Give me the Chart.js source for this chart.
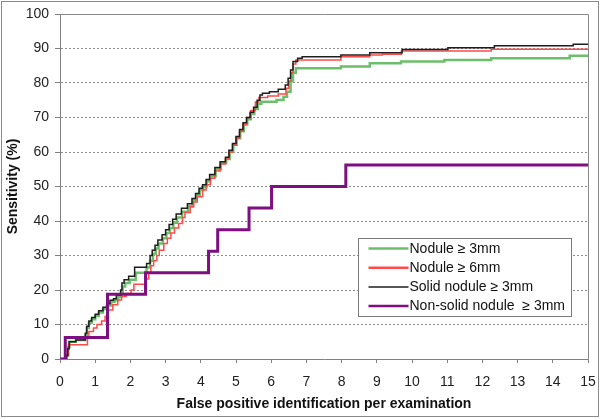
<!DOCTYPE html>
<html><head><meta charset="utf-8">
<script src="https://cdn.jsdelivr.net/npm/chart.js@4/dist/chart.umd.min.js"></script>
<style>html,body{margin:0;padding:0;background:#fff}#wrap{width:600px;height:418px}</style>
</head><body><div id="wrap"><canvas id="c" width="600" height="418"></canvas></div>
<script>
// ---- data ----
const xTickValues = [0,1,2,3,4,5,6,7,8,9,10,11,12,13,14,15];
const yTickValues = [0,10,20,30,40,50,60,70,80,90,100];
const xTitle = 'False positive identification per examination';
const yTitle = 'Sensitivity (%)';
const seriesLabels = ['Nodule \u2265 3mm','Nodule \u2265 6mm','Solid nodule \u2265 3mm','Non-solid nodule  \u2265 3mm'];

// each point: [false positives, sensitivity after the step]
const nodule3mm = [[0,0],[0.18,1],[0.23,3.5],[0.27,5],[0.45,5.5],[0.72,7],[0.76,9],[0.82,10.5],[0.9,11.5],[1.0,12.5],[1.1,13.5],[1.22,14.5],[1.33,15.5],[1.45,16.5],[1.55,17],[1.65,18],[1.74,19.5],[1.78,21],[1.85,22],[1.98,23],[2.15,25],[2.46,26.5],[2.56,28.5],[2.64,30.5],[2.72,32],[2.8,33.5],[2.92,35],[3.02,36.5],[3.12,38],[3.22,39.5],[3.32,41],[3.47,42.7],[3.64,44.3],[3.77,46],[3.87,47.5],[3.97,49],[4.07,50],[4.17,51.5],[4.27,53],[4.42,55],[4.57,56.8],[4.72,58],[4.82,60],[4.92,62],[5.02,64],[5.12,66],[5.22,68],[5.32,69.5],[5.42,71],[5.52,72.5],[5.62,74],[5.72,74.6],[6.15,75.1],[6.35,76],[6.45,77.5],[6.55,80.5],[6.62,83],[6.7,84.3],[7.98,84.8],[8.8,85.7],[9.69,86.2],[10.92,86.7],[12.25,87.2],[14.48,87.9],[15,87.9]];
const nodule6mm = [[0,0],[0.2,1],[0.24,4.1],[0.78,6.5],[0.82,8],[0.95,9],[1.05,10],[1.18,11],[1.28,12.3],[1.36,14.2],[1.5,15.7],[1.64,17.1],[1.75,18.1],[1.88,19],[2.02,20],[2.1,21.7],[2.45,23.2],[2.52,25],[2.58,27],[2.66,28.5],[2.75,30],[2.82,31.5],[2.95,33.5],[3.05,35],[3.15,36.5],[3.25,38],[3.37,39.3],[3.48,41],[3.55,42.5],[3.7,44.1],[3.8,45.5],[3.9,47],[4.05,49],[4.15,50.5],[4.27,52.4],[4.4,54.5],[4.55,56.5],[4.7,58],[4.8,60],[4.9,62],[5.0,64],[5.1,66],[5.2,68],[5.3,70],[5.42,72],[5.55,74.5],[5.65,75.8],[5.9,76.2],[6.2,76.8],[6.42,78.5],[6.5,80.5],[6.56,83],[6.62,85.5],[6.7,86.7],[7.98,87.6],[8.8,88.1],[9.15,88.3],[9.7,89.3],[12.25,89.8],[15,89.8]];
const solid3mm = [[0,0],[0.18,1],[0.22,3],[0.26,5],[0.45,5.5],[0.72,7.5],[0.76,9.5],[0.82,11],[0.9,12],[1.0,13],[1.1,14],[1.22,15],[1.33,16],[1.42,17],[1.52,17.5],[1.6,18.5],[1.72,20],[1.76,22],[1.82,23],[1.95,24],[2.12,26.6],[2.46,27.7],[2.56,30],[2.62,31.5],[2.7,33],[2.78,34.5],[2.9,36],[3.0,37.5],[3.1,39],[3.2,40.5],[3.3,42],[3.45,43.7],[3.62,45],[3.75,46.5],[3.85,48],[3.95,49.5],[4.05,50.5],[4.15,52],[4.25,53.5],[4.4,55.5],[4.55,57.2],[4.7,58.5],[4.8,60.5],[4.9,62.5],[5.0,64.5],[5.1,66.5],[5.2,68.5],[5.3,70],[5.4,71.5],[5.5,73],[5.6,75],[5.68,76.5],[5.75,77],[5.95,77.5],[6.2,78.2],[6.4,79.4],[6.48,81.4],[6.55,83.8],[6.62,86.2],[6.75,87.2],[6.88,87.6],[7.98,88.1],[8.8,88.8],[9.72,89.7],[11.02,90.2],[12.34,90.8],[14.58,91.2],[15,91.2]];
const nonSolid3mm = [[0,0],[0.15,6.25],[1.35,18.75],[2.43,25],[4.22,31.25],[4.48,37.5],[5.37,43.75],[6.01,50],[8.12,56.25],[15,56.25]];

// ---- styling ----
const colors = ['#6cbf6a','#ff4a4a','#1e1e1e','#7d0f80'];
const widths = [2.5,1.5,1.5,3];
const FONT = '"Liberation Sans", Arial, sans-serif';

const toPts = a => a.map(([x,y]) => ({x, y}));
const seriesData = [nodule3mm, nodule6mm, solid3mm, nonSolid3mm];

const framePlugin = {
  id: 'frame',
  beforeDatasetsDraw(chart) {
    const {ctx, chartArea: a} = chart;
    ctx.save();
    ctx.strokeStyle = '#8a8a8a';
    ctx.lineWidth = 1;
    ctx.beginPath();
    ctx.moveTo(Math.round(a.left) + 0.5, Math.round(a.top) + 0.5);
    ctx.lineTo(Math.round(a.right) + 0.5, Math.round(a.top) + 0.5);
    ctx.lineTo(Math.round(a.right) + 0.5, Math.round(a.bottom) + 0.5);
    ctx.stroke();
    ctx.restore();
  },
  afterDraw(chart) {
    const {ctx, chartArea: a} = chart;
    ctx.save();
    ctx.strokeStyle = '#8a8a8a';
    ctx.lineWidth = 1;
    ctx.strokeRect(1.5, 1.5, 597, 415);
    const bx = Math.round(a.left + 298) + 0.5, by = Math.round(a.top + 224) + 0.5, bw = 213, bh = 78;
    ctx.fillStyle = '#fff';
    ctx.fillRect(bx, by, bw, bh);
    ctx.strokeStyle = '#7a7a7a';
    ctx.strokeRect(bx, by, bw, bh);
    ctx.font = '14px ' + FONT;
    ctx.textBaseline = 'middle';
    ctx.textAlign = 'left';
    chart.data.datasets.forEach((ds, i) => {
      const yy = by + 10 + i * 19.2;
      ctx.strokeStyle = ds.borderColor;
      ctx.lineWidth = i === 2 ? 1.5 : 2.5;
      ctx.beginPath();
      ctx.moveTo(bx + 10, yy);
      ctx.lineTo(bx + 50, yy);
      ctx.stroke();
      ctx.fillStyle = '#111';
      ctx.fillText(ds.label, bx + 51, yy + 0.5);
    });
    ctx.restore();
  }
};

new Chart(document.getElementById('c'), {
  type: 'line',
  data: {
    datasets: seriesData.map((d, i) => ({
      label: seriesLabels[i],
      data: toPts(d),
      borderColor: colors[i],
      backgroundColor: colors[i],
      borderWidth: widths[i],
      pointRadius: 0,
      stepped: true,
      fill: false,
      order: 4 - i
    }))
  },
  options: {
    responsive: false,
    animation: false,
    devicePixelRatio: 1,
    layout: {padding: {top: 14, right: 12, left: 0, bottom: 0}},
    plugins: {legend: {display: false}, tooltip: {enabled: false}},
    scales: {
      x: {
        type: 'linear', min: 0, max: 15,
        afterFit: s => { s.height = 59; s.paddingLeft = 0; s.paddingRight = 0; },
        afterBuildTicks: s => { s.ticks = xTickValues.map(v => ({value: v})); },
        ticks: {color: '#222', font: {family: FONT, size: 14}, padding: 11, maxRotation: 0},
        grid: {drawOnChartArea: false, tickLength: 4, tickColor: '#808080', tickWidth: 1},
        border: {color: '#808080', width: 1},
        title: {display: true, text: xTitle, color: '#111', font: {family: FONT, size: 14, weight: 'bold'}, padding: {top: 0, bottom: 5}}
      },
      y: {
        min: 0, max: 100,
        afterFit: s => { s.width = 60; s.paddingTop = 0; s.paddingBottom = 0; },
        afterBuildTicks: s => { s.ticks = yTickValues.map(v => ({value: v})); },
        ticks: {color: '#222', font: {family: FONT, size: 14}, padding: 6},
        grid: {
          color: c => (c.tick && (c.tick.value === 0 || c.tick.value === 100)) ? 'rgba(0,0,0,0)' : '#8c8c8c',
          tickBorderDash: [],
          tickColor: '#808080',
          tickLength: 5,
          lineWidth: 1
        },
        border: {color: '#808080', width: 1, dash: [2, 2]},
        title: {display: true, text: yTitle, color: '#111', font: {family: FONT, size: 14, weight: 'bold'}, padding: {top: 5, bottom: 0}}
      }
    }
  },
  plugins: [framePlugin]
});
</script></body></html>
